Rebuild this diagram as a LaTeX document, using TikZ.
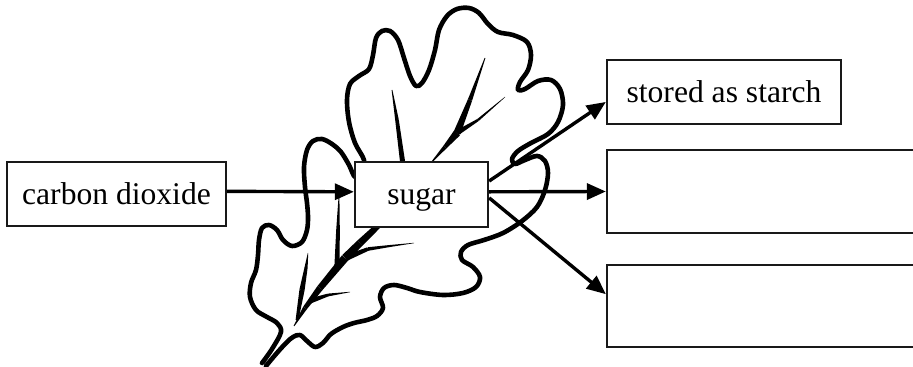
\documentclass[tikz,border=0pt]{standalone}
\usepackage{fontspec}
\setmainfont{Liberation Serif}
\usetikzlibrary{arrows.meta,calc}
\newcommand\leafvein[4]{\fill ($(#1)!#3!90:(#2)$) -- ($(#1)!#3!-90:(#2)$) -- ($(#2)!#4!90:(#1)$) -- ($(#2)!#4!-90:(#1)$) -- cycle;}
\begin{document}
\begin{tikzpicture}[x=0.5pt,y=-0.5pt,
  box/.style={draw=black!90, line width=1.15pt, fill=white, inner sep=0pt, text height=11pt, text depth=0.5pt, font=\fontsize{15.8}{18}\selectfont},
  arr/.style={line width=1.7pt, -{Triangle[length=9.5pt,width=8pt]}},
  leafline/.style={line width=2.3pt, line join=round, line cap=round}]
\clip (0,0) rectangle (913,367);
\fill[white] (0,0) rectangle (913,367);
% leaf outline
\draw[leafline] plot[smooth, tension=0.55] coordinates {
(266,366) (276,354) (286,343) (293,337) (300,335) (307,341) (315,347) (323,343) (331,334) (343,327) (354,323) (367,320) (377,316) (383,308) (380,297) (384,288) (394,285) (407,288) (420,292) (443,295) (463,293) (476,287) (480,277) (473,267) (462,260) (461,252) (468,245) (484,240) (503,233) (522,221) (537,207) (545,190) (548,173) (545,161) (537,156) (525,160) (515,164) (512,159) (518,151) (531,143) (548,134) (558,122) (563,105) (560,89) (551,80) (538,81) (525,89) (518,90) (520,82) (528,70) (531,55) (527,42) (513,35) (498,32) (488,24) (479,13) (469,8) (457,9) (447,16) (439,30) (435,50) (429,70) (422,83) (416,86) (410,76) (404,58) (398,40) (390,31) (382,31) (376,38) (373,55) (369,69) (359,76) (350,84) (347,100) (349,122) (355,143) (364,160) (362,172) (355,177) (349,165) (341,152) (332,144) (322,139) (313,141) (307,150) (304,167) (305,187) (307,203) (308,217) (307,230) (302,242) (292,246) (283,240) (277,230) (269,225) (262,228) (259,240) (258,255) (256,270) (251,283) (250,297) (256,310) (267,317) (277,323) (281,332) (272,349) (262,363)};
% veins, lower leaf
\leafvein{380,224}{360,243}{1.4pt}{1.8pt}
\leafvein{360,243}{345,258}{1.8pt}{2pt}
\leafvein{345,258}{320,288}{2pt}{1.6pt}
\leafvein{320,288}{305,308}{1.6pt}{1.1pt}
\leafvein{305,308}{294,326}{1.1pt}{0.2pt}
\leafvein{346,258}{368,249}{1.5pt}{0.9pt}
\leafvein{368,249}{390,246}{0.9pt}{0.5pt}
\leafvein{390,246}{414,243}{0.5pt}{0.1pt}
\leafvein{337,266}{338,230}{1.3pt}{0.9pt}
\leafvein{338,230}{339,196}{0.9pt}{0.2pt}
\leafvein{297,320}{302,290}{0.7pt}{1.3pt}
\leafvein{302,290}{306,268}{1.3pt}{0.8pt}
\leafvein{306,268}{308,253}{0.8pt}{0.1pt}
\leafvein{310,301}{328,295}{1.3pt}{0.7pt}
\leafvein{328,295}{350,292}{0.7pt}{0.1pt}
% veins, upper leaf
\leafvein{403,165}{397,120}{1.3pt}{0.9pt}
\leafvein{397,120}{392,90}{0.9pt}{0.2pt}
\leafvein{430,164}{445,147}{0.15pt}{1pt}
\leafvein{445,147}{457,133}{1pt}{1.9pt}
\leafvein{457,133}{470,100}{1.8pt}{1.1pt}
\leafvein{470,100}{485,58}{1.1pt}{0.2pt}
\leafvein{457,133}{478,120}{1.3pt}{0.6pt}
\leafvein{478,120}{505,97}{0.6pt}{0.1pt}
% boxes
\node[box, minimum width=109.5pt, minimum height=32pt] (co2) at (116.5,194) {carbon dioxide};
\node[box, minimum width=66.5pt, minimum height=32.5pt] (sugar) at (421.5,194.5) {sugar};
\node[box, minimum width=117pt, minimum height=32pt] (starch) at (724,92) {stored as starch};
\node[box, minimum width=165pt, minimum height=41.5pt] (out2) at (772,191.5) {};
\node[box, minimum width=165pt, minimum height=41pt] (out3) at (772,306) {};
% arrows
\draw[arr] ($(co2.north east)!0.46!(co2.south east)$) -- ($(sugar.north west)!0.46!(sugar.south west)$);
\draw[arr] ($(sugar.north east)!0.3!(sugar.south east)$) -- ($(starch.north west)!0.65!(starch.south west)$);
\draw[arr] ($(sugar.north east)!0.46!(sugar.south east)$) -- ($(out2.north west)!0.5!(out2.south west)$);
\draw[arr] ($(sugar.north east)!0.55!(sugar.south east)$) -- ($(out3.north west)!0.36!(out3.south west)$);
\end{tikzpicture}
\end{document}
